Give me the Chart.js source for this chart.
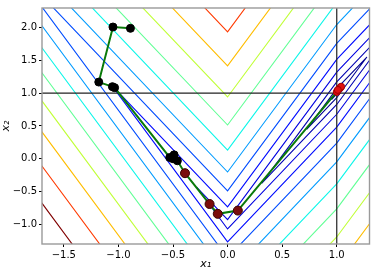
<!DOCTYPE html>
<html><head><meta charset="utf-8">
<script src="https://cdn.jsdelivr.net/npm/chart.js@4.4.1/dist/chart.umd.min.js"></script>
<style>html,body{margin:0;padding:0;background:#fff}#wrap{width:375px;height:273px}</style>
</head><body><div id="wrap"><canvas id="c" width="375" height="273"></canvas></div>
<script>
// axis ranges and ticks
const xRange = [-1.7, 1.3];
const yRange = [-1.3, 2.3];
const xTicks = [-1.5, -1.0, -0.5, 0.0, 0.5, 1.0];
const yTicks = [-1.0, -0.5, 0.0, 0.5, 1.0, 1.5, 2.0];

// contour levels and the vertices of each contour polygon [x1, x2]
const levels = [0.012, 0.069, 0.172, 0.321, 0.517, 0.760, 1.048, 1.383, 1.765, 2.193, 2.667, 3.187, 3.754];
const contour0 = [[0.952,0.904],[1,1.012],[1.048,1.096],[1,0.988],[0.952,0.904]];
const contour1 = [[0.724,0.448],[1,1.069],[1.276,1.552],[1,0.931],[0.724,0.448]];
const contour2 = [[0.312,-0.376],[1,1.172],[1.688,2.376],[1,0.828],[0.312,-0.376]];
const contour3 = [[-0.284,-0.432],[0,-0.929],[1,1.321],[2.284,3.568],[1,0.679],[0,-1.071],[-0.284,-0.432]];
const contour4 = [[-1.068,1.136],[0,-0.733],[1,1.517],[3.068,5.136],[1,0.483],[0,-1.267],[-1.068,1.136]];
const contour5 = [[-2.04,3.08],[0,-0.49],[1,1.76],[4.04,7.08],[1,0.24],[0,-1.51],[-2.04,3.08]];
const contour6 = [[-3.192,5.384],[0,-0.202],[1,2.048],[5.192,9.384],[1,-0.048],[0,-1.798],[-3.192,5.384]];
const contour7 = [[-4.532,8.064],[0,0.133],[1,2.383],[6.532,12.064],[1,-0.383],[0,-2.133],[-4.532,8.064]];
const contour8 = [[-6.06,11.12],[0,0.515],[1,2.765],[8.06,15.12],[1,-0.765],[0,-2.515],[-6.06,11.12]];
const contour9 = [[-7.772,14.544],[0,0.943],[1,3.193],[9.772,18.544],[1,-1.193],[0,-2.943],[-7.772,14.544]];
const contour10 = [[-9.668,18.336],[0,1.417],[1,3.667],[11.668,22.336],[1,-1.667],[0,-3.417],[-9.668,18.336]];
const contour11 = [[-11.748,22.496],[0,1.937],[1,4.187],[13.748,26.496],[1,-2.187],[0,-3.937],[-11.748,22.496]];
const contour12 = [[-14.016,27.032],[0,2.504],[1,4.754],[16.016,31.032],[1,-2.754],[0,-4.504],[-14.016,27.032]];
const contours = [contour0,contour1,contour2,contour3,contour4,contour5,contour6,contour7,contour8,contour9,contour10,contour11,contour12];

// reference lines x1 = 1 and x2 = 1
const refX = 1.0;
const refY = 1.0;

// optimisation path
const pathX = [-0.89, -1.05, -1.18, -1.055, -1.035, -0.53, -0.49, -0.50, -0.46, -0.39, -0.165, -0.09, 0.094, 1.03, 1.00, 1.04, 1.01];
const pathY = [1.99, 2.01, 1.17, 1.10, 1.085, 0.02, 0.06, 0.00, -0.03, -0.22, -0.69, -0.84, -0.79, 1.08, 1.02, 1.10, 1.05];
// marker groups (indices into the path)
const blackIdx = [0, 1, 2, 3, 4, 5, 6, 7, 8];
const darkRedIdx = [9, 10, 11, 12];
const redIdx = [13, 14, 15, 16];

function jet(t){
  const f=(pts)=>{for(let i=1;i<pts.length;i++){if(t<=pts[i][0]){const a=pts[i-1],b=pts[i];return a[1]+(b[1]-a[1])*(t-a[0])/(b[0]-a[0]);}}return pts[pts.length-1][1];};
  const r=f([[0,0],[0.35,0],[0.66,1],[0.89,1],[1,0.5]]);
  const g=f([[0,0],[0.125,0],[0.375,1],[0.64,1],[0.91,0],[1,0]]);
  const b=f([[0,0.5],[0.11,1],[0.34,1],[0.65,0],[1,0]]);
  return `rgb(${Math.round(r*255)},${Math.round(g*255)},${Math.round(b*255)})`;
}
const lmin=Math.min(...levels), lmax=Math.max(...levels);

const datasets=[];
contours.forEach((c,i)=>{
  datasets.push({data:c.map(p=>({x:p[0],y:p[1]})),showLine:true,pointRadius:0,borderWidth:1.1,
    borderColor:jet((levels[i]-lmin)/(lmax-lmin)),fill:false,tension:0,clip:0,order:10});
});
datasets.push({data:[{x:xRange[0]-1,y:refY},{x:xRange[1]+1,y:refY}],showLine:true,pointRadius:0,borderWidth:1.2,borderColor:'#222',clip:0,order:5});
datasets.push({data:[{x:refX,y:yRange[0]-1},{x:refX,y:yRange[1]+1}],showLine:true,pointRadius:0,borderWidth:1.2,borderColor:'#222',clip:0,order:5});
datasets.push({data:pathX.map((x,i)=>({x,y:pathY[i]})),showLine:true,pointRadius:0,borderWidth:2,borderColor:'#0a7a0a',clip:0,order:3});
datasets.push({data:blackIdx.map(i=>({x:pathX[i],y:pathY[i]})),showLine:false,pointRadius:4,pointBackgroundColor:'#000',pointBorderColor:'#000',pointBorderWidth:1,order:1});
datasets.push({data:darkRedIdx.map(i=>({x:pathX[i],y:pathY[i]})),showLine:false,pointRadius:4.5,pointBackgroundColor:'#7a0c0c',pointBorderColor:'#3a0000',pointBorderWidth:1,order:1});
datasets.push({data:redIdx.map(i=>({x:pathX[i],y:pathY[i]})),showLine:false,pointRadius:3.5,pointBackgroundColor:'#e01010',pointBorderColor:'#a00000',pointBorderWidth:1,order:0});
datasets.push({data:redIdx.map(i=>({x:pathX[i],y:pathY[i]})),showLine:true,pointRadius:0,borderWidth:1.5,borderColor:'#1a9a1a',order:0});

const fmt=v=>{const s=Math.abs(v).toFixed(1);return (v<-1e-9?'\u2212':'')+s;};
const tickFont={family:'DejaVu Sans',size:10};
const frame={id:'frame',afterDraw(ch){const a=ch.chartArea,ctx=ch.ctx;ctx.save();ctx.strokeStyle='#9a9a9a';ctx.lineWidth=1.4;ctx.strokeRect(a.left,a.top,a.right-a.left,a.bottom-a.top);ctx.restore();}};

new Chart(document.getElementById('c'),{
  type:'scatter',
  data:{datasets},
  options:{
    responsive:false,animation:false,
    layout:{padding:{left:0,right:5,top:5,bottom:0}},
    plugins:{legend:{display:false},tooltip:{enabled:false}},
    scales:{
      x:{type:'linear',min:xRange[0],max:xRange[1],
        afterBuildTicks:s=>{s.ticks=xTicks.map(v=>({value:v}));},
        afterFit:s=>{s.height=29;},
        ticks:{callback:v=>fmt(v),font:tickFont,color:'#000',padding:2,maxRotation:0,autoSkip:false},
        grid:{drawOnChartArea:false,drawTicks:true,tickLength:3,tickColor:'#000',tickWidth:1},
        border:{display:false},
        title:{display:true,text:'x\u2081',font:{family:'DejaVu Sans',size:11,style:'italic'},color:'#000',padding:{top:0,bottom:2}}
      },
      y:{type:'linear',min:yRange[0],max:yRange[1],
        afterBuildTicks:s=>{s.ticks=yTicks.map(v=>({value:v}));},
        afterFit:s=>{s.width=42;},
        ticks:{callback:v=>fmt(v),font:tickFont,color:'#000',padding:2,autoSkip:false},
        grid:{drawOnChartArea:false,drawTicks:true,tickLength:3,tickColor:'#000',tickWidth:1},
        border:{display:false},
        title:{display:true,text:'x\u2082',font:{family:'DejaVu Sans',size:11,style:'italic'},color:'#000',padding:{top:0,bottom:0}}
      }
    }
  },
  plugins:[frame]
});
</script></body></html>
